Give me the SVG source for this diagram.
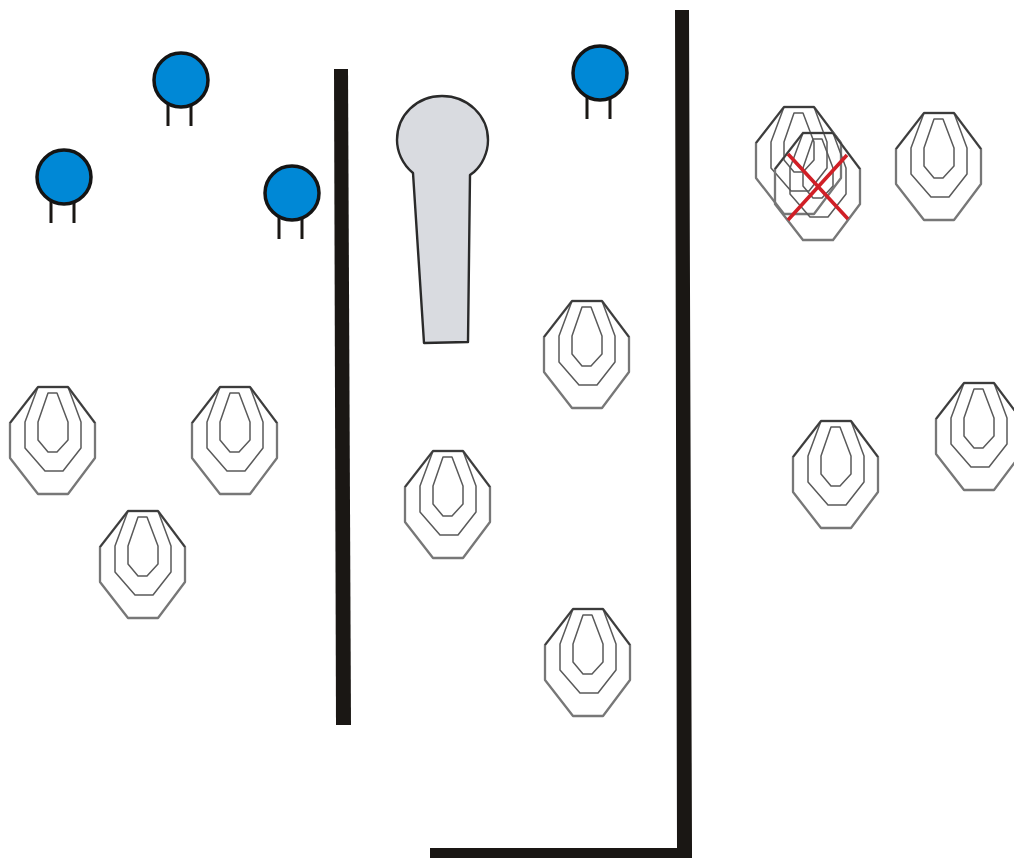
<svg xmlns="http://www.w3.org/2000/svg" width="1014" height="858" viewBox="0 0 1014 858">
<style>
.o{fill:#fff;stroke:#777;stroke-width:2.3;stroke-linejoin:round}
.t{fill:none;stroke:#3c3c3c;stroke-width:1.8;stroke-linejoin:round}
.m{fill:none;stroke:#5a5a5a;stroke-width:1.5;stroke-linejoin:round}
.w{fill:#1a1714}
.b{fill:#0088d6;stroke:#141414;stroke-width:3.5}
.l{stroke:#1a1714;stroke-width:3;fill:none}
.x{stroke:#d01f26;stroke-width:3.6;fill:none}
</style>
<defs>
<g id="rings">
<path class="m" d="M28 0L15 35V61L35 84H53L71 61V35L58 0"/>
<path class="m" d="M38 6H47L58 35V53L47 65H38L28 53V35Z"/>
<path class="t" d="M0 36L28 0H58L85 36"/>
</g>
<g id="target">
<path class="o" d="M28 0H58L85 36V71L58 107H28L0 71V36Z"/>
<use href="#rings"/>
</g>
<g id="person">
<path class="l" d="M-13 20V46M10 20V46"/>
<circle class="b" r="27"/>
</g>
</defs>
<rect width="1014" height="858" fill="#fff"/>
<g id="walls">
<path id="wall-1" class="w" d="M334 69H348L351 725H336Z"/>
<path id="wall-2" class="w" d="M675 10H689L692 847V858H430V848H677Z"/>
</g>
<g id="paddle"><path d="M413 173C402 164 397 151 397 140C397 115 417 96 442 96C468 96 488 116 488 140C488 153 482 165 474 172L470 175L468 342L424 343Z" fill="#d9dbe0" stroke="#2a2a2a" stroke-width="2.4" stroke-linejoin="round"/></g>
<use id="person-1" href="#person" x="64" y="177"/>
<use id="person-2" href="#person" x="181" y="80"/>
<use id="person-3" href="#person" x="292" y="193"/>
<use id="person-4" href="#person" x="600" y="73"/>
<use id="target-1" href="#target" x="10" y="387"/>
<use id="target-2" href="#target" x="192" y="387"/>
<use id="target-3" href="#target" x="100" y="511"/>
<use id="target-4" href="#target" x="405" y="451"/>
<use id="target-5" href="#target" x="544" y="301"/>
<use id="target-6" href="#target" x="545" y="609"/>
<use id="target-7" href="#target" x="793" y="421"/>
<use id="target-8" href="#target" x="936" y="383"/>
<use id="target-9" href="#target" x="896" y="113"/>
<use id="target-10" href="#target" x="756" y="107"/>
<g id="target-11" transform="translate(775 133)">
<path d="M28 0H58L85 36V71L58 107H28L0 71V36Z" fill="none" stroke="#777" stroke-width="2.3"/>
<use href="#rings"/>
</g>
<g id="cross"><path class="x" d="M788 154L848 219M788 220L847 155"/></g>
</svg>
